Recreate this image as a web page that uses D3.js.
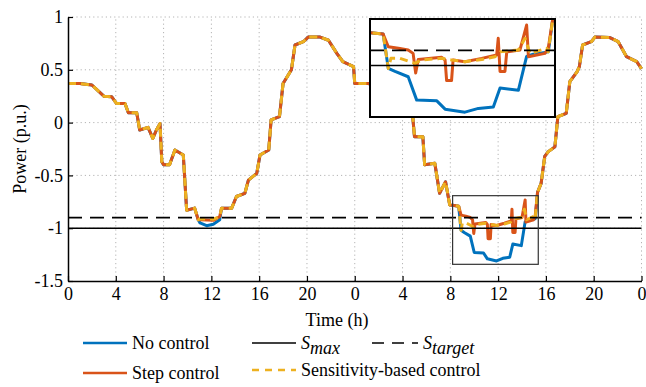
<!DOCTYPE html>
<html>
<head>
<meta charset="utf-8">
<script src="https://cdn.jsdelivr.net/npm/d3@7"></script>
<style>
  body { margin: 0; background: #fff; }
  text { font-family: "Liberation Serif", "Times New Roman", serif; fill: #000; }
</style>
</head>
<body>
<svg id="chart" width="646" height="387"></svg>
<script>
// ---- data ----
// uncontrolled profile over two days
const baseHours = [0, 1.0, 2.0, 3.0, 3.65, 4.07, 4.77, 5.05, 5.75, 6.0, 6.7, 7.1, 7.4, 7.7, 7.85, 8.0, 8.5, 8.95, 9.65, 9.93,
  10.6, 10.9, 11.05, 11.6, 12.16, 12.7, 12.85, 13.7, 14.1, 14.8, 15.1, 15.8, 16.07, 16.8, 17.0, 17.7, 18.0, 18.7,
  19.0, 19.7, 20.1, 21.1, 21.8, 22.5, 23.0, 23.9, 24.0, 25.1, 26.1, 26.9, 27.8, 28.1, 28.5, 28.85, 29.0, 29.7,
  29.85, 30.7, 31.1, 31.6, 31.95, 32.2, 32.7, 32.9, 33.16, 33.67, 34.0, 34.78, 35.1, 35.87, 36.39, 36.97, 37.23,
  37.94, 38.26, 38.52, 39.1, 39.3, 39.6, 39.9, 40.2, 40.75, 41.0, 41.7, 42.0, 42.6, 42.8, 43.07, 43.8, 44.1,
  45.35, 46.05, 46.75, 47.6, 48];
const noControl = [0.37, 0.37, 0.356, 0.25, 0.245, 0.18, 0.18, 0.094, 0.094, -0.07, -0.045, -0.15, -0.07, -0.01, -0.37, -0.40, -0.40, -0.26, -0.307, -0.83,
  -0.81, -0.92, -0.95, -0.976, -0.963, -0.92, -0.81, -0.81, -0.70, -0.67, -0.545, -0.48, -0.307, -0.26, 0.025, 0.056, 0.37, 0.50,
  0.735, 0.766, 0.81, 0.81, 0.78, 0.656, 0.577, 0.53, 0.37, 0.37, 0.35, 0.25, 0.2, 0.14, 0.1, 0.06, -0.133, -0.133,
  -0.40, -0.385, -0.67, -0.56, -0.78, -0.783, -0.792, -1.02, -1.04, -1.075, -1.23, -1.235, -1.29, -1.31, -1.285, -1.275, -1.15,
  -1.165, -0.94, -0.925, -0.91, -0.66, -0.575, -0.32, -0.275, -0.23, 0.056, 0.088, 0.387, 0.48, 0.53, 0.735, 0.766, 0.81,
  0.805, 0.766, 0.624, 0.577, 0.51];

// step control, where it differs from the uncontrolled profile
const stepDay1Hours = [11.05, 12.2, 12.7];
const stepDay1Power = [-0.92, -0.925, -0.89];
const stepDay2Hours = [32.9, 33.29, 33.67, 33.86, 33.96, 34.06, 34.97, 35.1, 35.16, 35.35, 35.41, 35.87, 36.52, 37.1, 37.16,
  37.23, 37.42, 37.49, 38.0, 38.26, 38.33, 38.97, 39.1];
const stepDay2Power = [-0.876, -0.886, -0.898, -0.92, -1.05, -0.96, -0.946, -0.964, -1.10, -1.10, -0.964, -0.975, -0.953, -0.931, -0.82,
  -1.04, -1.04, -0.91, -0.898, -0.732, -0.942, -0.92, -0.886];

// sensitivity-based control
const sensDay1Hours = [11.05, 12.2, 12.7];
const sensDay1Power = [-0.91, -0.915, -0.89];
const sensDay2Hours = [33.0, 33.35, 33.93, 34.19, 34.97, 35.35, 35.87, 36.52, 37.04, 37.23, 37.94, 38.2, 38.39, 39.03];
const sensDay2Power = [-0.953, -0.953, -0.986, -0.964, -0.953, -0.964, -0.975, -0.96, -0.942, -0.91, -0.898, -0.82, -0.92, -0.886];

const sMax = -1.0;
const sTarget = -0.9;

const xTicks = [0, 4, 8, 12, 16, 20, 24, 28, 32, 36, 40, 44, 48];
const yTicks = [-1.5, -1, -0.5, 0, 0.5, 1];

const zoomHours = [32.19, 39.36];
const zoomPower = [-1.342, -0.692];

const colors = { none: "#0072BD", step: "#D95319", sens: "#EDB120" };

// ---- build series ----
function toPoints(hours, power) {
  return hours.map((h, i) => ({ t: h, v: power[i] }));
}
function withWindows(windows) {
  let pts = toPoints(baseHours, noControl);
  windows.forEach(w => {
    const lo = w[0][0], hi = w[0][w[0].length - 1];
    pts = pts.filter(p => p.t < lo || p.t > hi).concat(toPoints(w[0], w[1]));
  });
  return pts.sort((a, b) => a.t - b.t);
}
const series = [
  { key: "none", pts: toPoints(baseHours, noControl), dash: null },
  { key: "step", pts: withWindows([[stepDay1Hours, stepDay1Power], [stepDay2Hours, stepDay2Power]]), dash: null },
  { key: "sens", pts: withWindows([[sensDay1Hours, sensDay1Power], [sensDay2Hours, sensDay2Power]]), dash: "8,5" }
];

// ---- layout ----
const svg = d3.select("#chart");
const x = d3.scaleLinear().domain([0, 48]).range([68, 641.5]);
const y = d3.scaleLinear().domain([-1.5, 1]).range([281, 17]);

// grid
const grid = svg.append("g").attr("stroke", "#b4b4b4").attr("stroke-width", 1).attr("stroke-dasharray", "1.2,3");
grid.selectAll("line.v").data(xTicks.slice(1)).join("line")
  .attr("x1", d => x(d)).attr("x2", d => x(d)).attr("y1", y(-1.5)).attr("y2", y(1));
grid.selectAll("line.h").data(yTicks.slice(1)).join("line")
  .attr("x1", x(0)).attr("x2", x(48)).attr("y1", d => y(d)).attr("y2", d => y(d));

function drawCurves(g, sx, sy, width) {
  const line = d3.line().x(d => sx(d.t)).y(d => sy(d.v));
  g.selectAll("path.curve").data(series).join("path")
    .attr("class", "curve")
    .attr("fill", "none")
    .attr("stroke", d => colors[d.key])
    .attr("stroke-width", width)
    .attr("stroke-linejoin", "round")
    .attr("stroke-dasharray", d => d.dash)
    .attr("d", d => line(d.pts));
  const [x0, x1] = sx.domain();
  g.append("line").attr("x1", sx(x0)).attr("x2", sx(x1)).attr("y1", sy(sMax)).attr("y2", sy(sMax))
    .attr("stroke", "#000").attr("stroke-width", 1.5);
  g.append("line").attr("x1", sx(x0)).attr("x2", sx(x1)).attr("y1", sy(sTarget)).attr("y2", sy(sTarget))
    .attr("stroke", "#000").attr("stroke-width", 1.8).attr("stroke-dasharray", "14,8");
}

drawCurves(svg.append("g"), x, y, 3);

// zoom box on main plot
svg.append("rect")
  .attr("x", x(zoomHours[0])).attr("y", y(zoomPower[1]))
  .attr("width", x(zoomHours[1]) - x(zoomHours[0])).attr("height", y(zoomPower[0]) - y(zoomPower[1]))
  .attr("fill", "none").attr("stroke", "#333").attr("stroke-width", 1.2);

// axes
const xAxis = d3.axisBottom(x).tickValues(xTicks).tickFormat(d => d % 24)
  .tickSizeInner(-5).tickSizeOuter(0).tickPadding(6);
const yAxis = d3.axisLeft(y).tickValues(yTicks).tickFormat(d => String(d))
  .tickSizeInner(-5).tickSizeOuter(0).tickPadding(5);
const gx = svg.append("g").attr("transform", `translate(0,${y(-1.5)})`).call(xAxis);
const gy = svg.append("g").attr("transform", `translate(${x(0)},0)`).call(yAxis);
[gx, gy].forEach(g => {
  g.select(".domain").attr("stroke", "#000").attr("stroke-width", 1.5);
  g.selectAll(".tick line").attr("stroke", "#000").attr("stroke-width", 1.2);
  g.selectAll(".tick text").attr("font-size", 18).attr("font-family", "Liberation Serif").attr("fill", "#000");
});

svg.append("text").attr("x", 337).attr("y", 326).attr("text-anchor", "middle")
  .attr("font-size", 18).text("Time (h)");
svg.append("text").attr("transform", "translate(26,149) rotate(-90)").attr("text-anchor", "middle")
  .attr("font-size", 18).text("Power (p.u.)");

// inset
const ix = d3.scaleLinear().domain(zoomHours).range([370, 555]);
const iy = d3.scaleLinear().domain(zoomPower).range([117, 19]);
svg.append("clipPath").attr("id", "insetClip").append("rect")
  .attr("x", 370).attr("y", 19).attr("width", 185).attr("height", 98);
svg.append("rect").attr("x", 370).attr("y", 19).attr("width", 185).attr("height", 98).attr("fill", "#fff");
drawCurves(svg.append("g").attr("clip-path", "url(#insetClip)"), ix, iy, 3);
svg.append("rect").attr("x", 370).attr("y", 19).attr("width", 185).attr("height", 98)
  .attr("fill", "none").attr("stroke", "#000").attr("stroke-width", 2);

// legend
const legend = [
  { x: 83, y: 343, color: colors.none, dash: null, w: 2.6, label: "No control" },
  { x: 83, y: 373, color: colors.step, dash: null, w: 2.6, label: "Step control" },
  { x: 252, y: 343, color: "#000", dash: null, w: 1.5, label: "S", sub: "max" },
  { x: 372, y: 343, color: "#000", dash: "12,8", w: 1.5, label: "S", sub: "target", len: 46 },
  { x: 252, y: 370, color: colors.sens, dash: "7,6", w: 2.6, label: "Sensitivity-based control" }
];
const lg = svg.append("g").selectAll("g").data(legend).join("g");
lg.append("line")
  .attr("x1", d => d.x).attr("x2", d => d.x + (d.len || 44)).attr("y1", d => d.y).attr("y2", d => d.y)
  .attr("stroke", d => d.color).attr("stroke-width", d => d.w).attr("stroke-dasharray", d => d.dash);
const lt = lg.append("text")
  .attr("x", d => d.x + (d.len || 44) + 5).attr("y", d => d.y + 6).attr("font-size", 18)
  .attr("font-style", d => d.sub ? "italic" : null);
lt.append("tspan").text(d => d.label);
lt.filter(d => d.sub).append("tspan").attr("dy", 5).text(d => d.sub);
</script>
</body>
</html>
